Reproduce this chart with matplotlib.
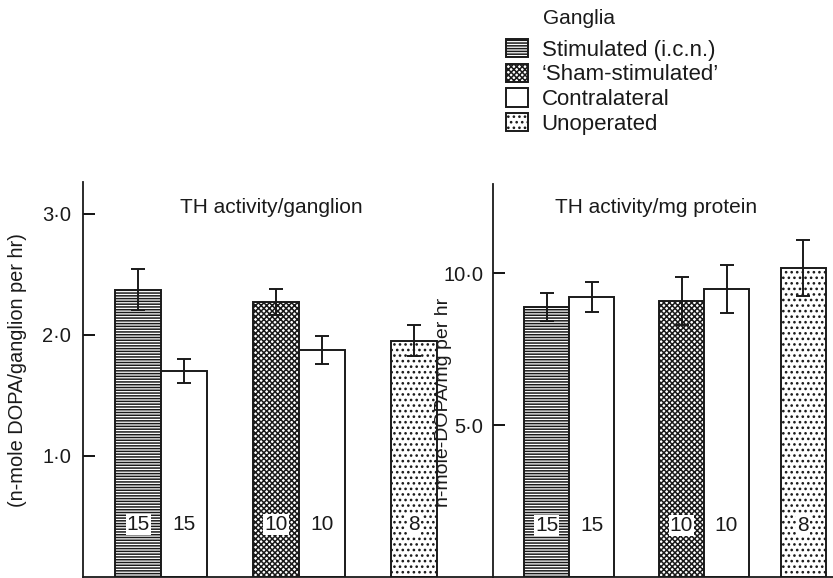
import matplotlib
matplotlib.use("Agg")
import matplotlib.pyplot as plt
from matplotlib.patches import Patch

plt.rcParams['font.family'] = ['Liberation Sans', 'DejaVu Sans']
plt.rcParams['hatch.linewidth'] = 1.1

# data
groups = ['Stimulated', 'Contralateral', 'Sham', 'Contralateral', 'Unoperated']
n_ganglia = [15, 15, 10, 10, 8]
per_ganglion = [2.37, 1.70, 2.27, 1.87, 1.95]
per_ganglion_err = [0.17, 0.10, 0.105, 0.115, 0.13]
per_mg = [8.88, 9.21, 9.08, 9.47, 10.16]
per_mg_err = [0.47, 0.50, 0.80, 0.78, 0.92]
legend_labels = ['Stimulated (i.c.n.)', '\u2018Sham-stimulated\u2019', 'Contralateral', 'Unoperated']
legend_keys = ['Stimulated', 'Sham', 'Contralateral', 'Unoperated']

hatches = {'Stimulated': '------', 'Sham': 'xxxxxx', 'Contralateral': '', 'Unoperated': '...'}
ink = '#1a1a1a'
W, H = 833, 578

fig = plt.figure(figsize=(W / 100, H / 100), dpi=100)
ax1 = fig.add_axes([83 / W, 1 / H, 410 / W, 395 / H])
ax2 = fig.add_axes([493 / W, 1 / H, 340 / W, 393 / H])


def panel(ax, pos, vals, errs, ylim, ticks, labels, ylabel, pad, ylabel_size):
    for p, v, e, g, n in zip(pos, vals, errs, groups, n_ganglia):
        ax.bar(p, v, width=1.0, color='white', edgecolor=ink, linewidth=1.4,
               hatch=hatches[g], zorder=2)
        ax.errorbar(p, v, yerr=e, color=ink, elinewidth=1.4, capsize=4.8,
                    capthick=1.4, zorder=3)
        ax.text(p, 0.132, str(n), transform=ax.get_xaxis_transform(),
                ha='center', va='center', fontsize=15, color=ink, zorder=4,
                bbox=dict(boxstyle='square,pad=0.05', fc='white', ec='none'))
    ax.set_ylim(*ylim)
    ax.set_yticks(ticks)
    ax.set_yticklabels(labels, fontsize=14.5, color=ink)
    ax.tick_params(axis='y', direction='in', length=8.5, width=1.3, pad=pad)
    ax.set_xticks([])
    for s in ['top', 'right']:
        ax.spines[s].set_visible(False)
    for s in ['left', 'bottom']:
        ax.spines[s].set_linewidth(1.3)
        ax.spines[s].set_color(ink)
    ax.set_ylabel(ylabel, fontsize=ylabel_size, color=ink)


pos1 = [1, 2, 4, 5, 7]
ax1.set_xlim(-0.2, 410 / 46 - 0.2)
panel(ax1, pos1, per_ganglion, per_ganglion_err, (0, 3.26), [1, 2, 3],
      ['1\u00b70', '2\u00b70', '3\u00b70'], '(n-mole DOPA/ganglion per hr)', 8.6, 14.4)
ax1.text(0.46, 0.935, 'TH activity/ganglion', transform=ax1.transAxes,
         ha='center', va='center', fontsize=15, color=ink)
ax1.yaxis.set_label_coords(-0.137, 0.524)

pos2 = [1, 2, 4, 5, 6.7]
ax2.set_xlim(-0.19, 340 / 45 - 0.19)
panel(ax2, pos2, per_mg, per_mg_err, (0, 12.93), [5, 10],
      ['5\u00b70', '10\u00b70'], 'n-mole-DOPA/mg per hr', 7.0, 14.0)
ax2.text(0.48, 0.94, 'TH activity/mg protein', transform=ax2.transAxes,
         ha='center', va='center', fontsize=15, color=ink)
ax2.yaxis.set_label_coords(-0.122, 0.445)

# legend
handles = [Patch(facecolor='white', edgecolor=ink, linewidth=1.4, hatch=hatches[k])
           for k in legend_keys]
fig.text(543 / W, 1 - 18 / H, 'Ganglia', fontsize=15, color=ink, va='center')
fig.legend(handles, legend_labels, loc='upper left',
           bbox_to_anchor=(506 / W, 1 - 39 / H), frameon=False, fontsize=16,
           handlelength=1.0, handleheight=0.9, handletextpad=0.6,
           labelspacing=0.12, borderpad=0, borderaxespad=0, labelcolor=ink)

fig.savefig('out.png', dpi=100, facecolor='white')
